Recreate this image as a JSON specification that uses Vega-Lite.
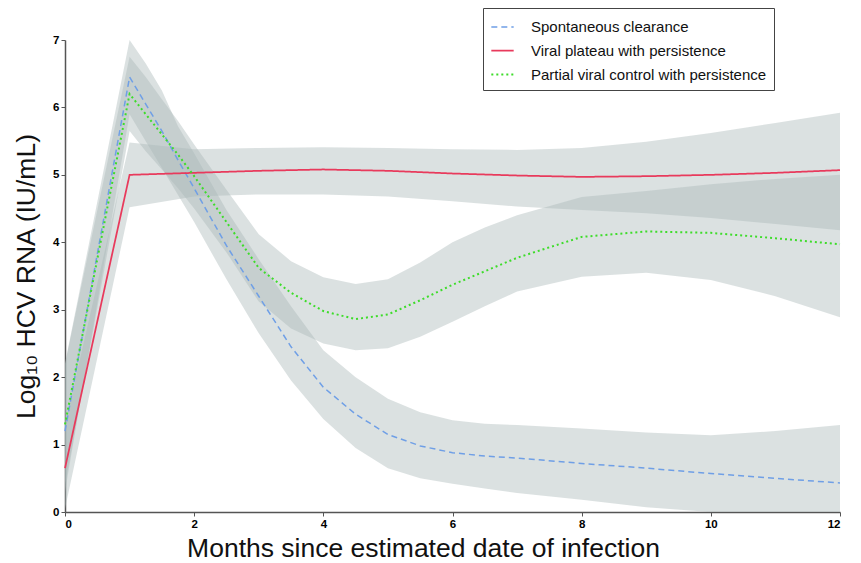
{
  "$schema": "https://vega.github.io/schema/vega-lite/v6.json",
  "width": 775,
  "height": 472,
  "autosize": {"type": "none"},
  "padding": {"left": 65, "top": 40, "right": 21, "bottom": 51},
  "background": "white",
  "config": {
    "view": {"stroke": null},
    "font": "Liberation Sans",
    "axis": {"grid": false, "domainColor": "#555555", "domainWidth": 1.5, "tickColor": "#555555", "tickSize": 4, "labelFont": "Liberation Sans", "labelFontWeight": "bold", "labelFontSize": 11.5, "labelColor": "#000000", "titleFont": "Liberation Sans", "titleFontWeight": "normal", "titleFontSize": 26.5, "titleColor": "#111111"}
  },
  "data": {"values": [
    {"series": "Spontaneous clearance", "x": 0, "y": 1.2, "lo": 0.3, "hi": 2.2},
    {"series": "Spontaneous clearance", "x": 1, "y": 6.45, "lo": 5.9, "hi": 7.0},
    {"series": "Spontaneous clearance", "x": 1.25, "y": 6.05, "lo": 5.5, "hi": 6.65},
    {"series": "Spontaneous clearance", "x": 1.5, "y": 5.65, "lo": 5.1, "hi": 6.25},
    {"series": "Spontaneous clearance", "x": 1.75, "y": 5.22, "lo": 4.7, "hi": 5.72},
    {"series": "Spontaneous clearance", "x": 2, "y": 4.8, "lo": 4.3, "hi": 5.32},
    {"series": "Spontaneous clearance", "x": 2.5, "y": 3.95, "lo": 3.45, "hi": 4.48},
    {"series": "Spontaneous clearance", "x": 3, "y": 3.2, "lo": 2.65, "hi": 3.75},
    {"series": "Spontaneous clearance", "x": 3.5, "y": 2.45, "lo": 1.95, "hi": 3.05},
    {"series": "Spontaneous clearance", "x": 4, "y": 1.85, "lo": 1.38, "hi": 2.4},
    {"series": "Spontaneous clearance", "x": 4.5, "y": 1.45, "lo": 0.95, "hi": 2.0},
    {"series": "Spontaneous clearance", "x": 5, "y": 1.15, "lo": 0.65, "hi": 1.68},
    {"series": "Spontaneous clearance", "x": 5.5, "y": 0.98, "lo": 0.5, "hi": 1.48},
    {"series": "Spontaneous clearance", "x": 6, "y": 0.88, "lo": 0.42, "hi": 1.36},
    {"series": "Spontaneous clearance", "x": 6.5, "y": 0.83, "lo": 0.35, "hi": 1.31},
    {"series": "Spontaneous clearance", "x": 7, "y": 0.8, "lo": 0.28, "hi": 1.29},
    {"series": "Spontaneous clearance", "x": 8, "y": 0.72, "lo": 0.18, "hi": 1.24},
    {"series": "Spontaneous clearance", "x": 9, "y": 0.65, "lo": 0.07, "hi": 1.18},
    {"series": "Spontaneous clearance", "x": 10, "y": 0.57, "lo": 0, "hi": 1.14},
    {"series": "Spontaneous clearance", "x": 11, "y": 0.5, "lo": 0, "hi": 1.2},
    {"series": "Spontaneous clearance", "x": 12, "y": 0.43, "lo": 0, "hi": 1.29},
    {"series": "Viral plateau with persistence", "x": 0, "y": 0.65, "lo": 0.05, "hi": 1.3},
    {"series": "Viral plateau with persistence", "x": 1, "y": 5.0, "lo": 4.52, "hi": 5.48},
    {"series": "Viral plateau with persistence", "x": 2, "y": 5.03, "lo": 4.68, "hi": 5.38},
    {"series": "Viral plateau with persistence", "x": 3, "y": 5.06, "lo": 4.71, "hi": 5.4},
    {"series": "Viral plateau with persistence", "x": 4, "y": 5.08, "lo": 4.71, "hi": 5.41},
    {"series": "Viral plateau with persistence", "x": 5, "y": 5.06, "lo": 4.68, "hi": 5.4},
    {"series": "Viral plateau with persistence", "x": 6, "y": 5.02, "lo": 4.61, "hi": 5.38},
    {"series": "Viral plateau with persistence", "x": 7, "y": 4.99, "lo": 4.53, "hi": 5.37},
    {"series": "Viral plateau with persistence", "x": 8, "y": 4.97, "lo": 4.48, "hi": 5.4},
    {"series": "Viral plateau with persistence", "x": 9, "y": 4.98, "lo": 4.43, "hi": 5.49},
    {"series": "Viral plateau with persistence", "x": 10, "y": 5.0, "lo": 4.36, "hi": 5.62},
    {"series": "Viral plateau with persistence", "x": 11, "y": 5.03, "lo": 4.27, "hi": 5.77},
    {"series": "Viral plateau with persistence", "x": 12, "y": 5.07, "lo": 4.18, "hi": 5.92},
    {"series": "Partial viral control with persistence", "x": 0, "y": 1.3, "lo": 0.4, "hi": 2.2},
    {"series": "Partial viral control with persistence", "x": 1, "y": 6.2, "lo": 5.65, "hi": 6.75},
    {"series": "Partial viral control with persistence", "x": 1.25, "y": 5.9, "lo": 5.35, "hi": 6.45},
    {"series": "Partial viral control with persistence", "x": 1.5, "y": 5.6, "lo": 5.08, "hi": 6.12},
    {"series": "Partial viral control with persistence", "x": 1.75, "y": 5.3, "lo": 4.8, "hi": 5.8},
    {"series": "Partial viral control with persistence", "x": 2, "y": 4.98, "lo": 4.5, "hi": 5.45},
    {"series": "Partial viral control with persistence", "x": 2.5, "y": 4.3, "lo": 3.85, "hi": 4.78},
    {"series": "Partial viral control with persistence", "x": 3, "y": 3.62, "lo": 3.12, "hi": 4.12},
    {"series": "Partial viral control with persistence", "x": 3.5, "y": 3.25, "lo": 2.72, "hi": 3.72},
    {"series": "Partial viral control with persistence", "x": 4, "y": 2.98, "lo": 2.5, "hi": 3.48},
    {"series": "Partial viral control with persistence", "x": 4.5, "y": 2.86, "lo": 2.4, "hi": 3.38},
    {"series": "Partial viral control with persistence", "x": 5, "y": 2.93, "lo": 2.43, "hi": 3.45},
    {"series": "Partial viral control with persistence", "x": 5.5, "y": 3.14, "lo": 2.6, "hi": 3.7},
    {"series": "Partial viral control with persistence", "x": 6, "y": 3.37, "lo": 2.82, "hi": 4.0},
    {"series": "Partial viral control with persistence", "x": 6.5, "y": 3.57, "lo": 3.05, "hi": 4.22},
    {"series": "Partial viral control with persistence", "x": 7, "y": 3.77, "lo": 3.27, "hi": 4.4},
    {"series": "Partial viral control with persistence", "x": 8, "y": 4.08, "lo": 3.49, "hi": 4.67},
    {"series": "Partial viral control with persistence", "x": 9, "y": 4.16, "lo": 3.55, "hi": 4.76},
    {"series": "Partial viral control with persistence", "x": 10, "y": 4.14, "lo": 3.44, "hi": 4.86},
    {"series": "Partial viral control with persistence", "x": 11, "y": 4.06, "lo": 3.2, "hi": 4.94},
    {"series": "Partial viral control with persistence", "x": 12, "y": 3.97, "lo": 2.89, "hi": 5.0}
  ]},
  "layer": [
    {
      "mark": {"type": "area", "color": "#a9b8b8", "opacity": 0.42},
      "encoding": {
        "x": {"field": "x", "type": "quantitative"},
        "y": {"field": "lo", "type": "quantitative"},
        "y2": {"field": "hi"},
        "detail": {"field": "series"}
      }
    },
    {
      "mark": {"type": "line"},
      "encoding": {
        "x": {"field": "x", "type": "quantitative", "scale": {"domain": [0, 12], "nice": false}, "axis": {"values": [0, 2, 4, 6, 8, 10, 12], "format": "d", "title": "Months since estimated date of infection", "titleX": 358, "titlePadding": 6}},
        "y": {"field": "y", "type": "quantitative", "scale": {"domain": [0, 7], "nice": false}, "axis": {"values": [0, 1, 2, 3, 4, 5, 6, 7], "format": "d", "title": "Log₁₀ HCV RNA (IU/mL)", "titlePadding": 12}},
        "color": {"field": "series", "type": "nominal", "scale": {"domain": ["Spontaneous clearance", "Viral plateau with persistence", "Partial viral control with persistence"], "range": ["#6f9fe6", "#e83a5c", "#3ddc2a"]}, "legend": {"title": null, "orient": "none", "legendX": 418, "legendY": -32, "strokeColor": "#444444", "padding": 7, "fillColor": "white", "symbolType": "stroke", "symbolSize": 500, "symbolStrokeWidth": 3, "labelFontSize": 15, "labelFont": "Liberation Sans", "labelColor": "#111111", "labelOffset": 16, "rowPadding": 3, "labelLimit": 400}},
        "strokeDash": {"field": "series", "type": "nominal", "scale": {"domain": ["Spontaneous clearance", "Viral plateau with persistence", "Partial viral control with persistence"], "range": [[6, 4], [1, 0], [2, 3]]}, "legend": {"title": null}},
        "strokeWidth": {"field": "series", "type": "nominal", "scale": {"domain": ["Spontaneous clearance", "Viral plateau with persistence", "Partial viral control with persistence"], "range": [1.5, 2, 2.5]}, "legend": null}
      }
    }
  ]
}
